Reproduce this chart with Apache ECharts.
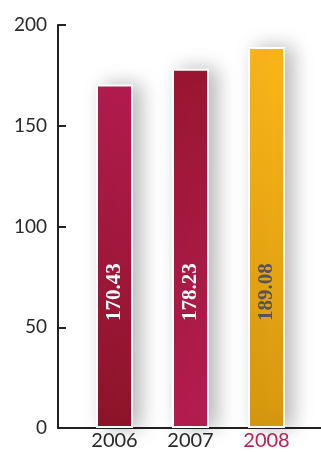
<!DOCTYPE html>
<html><head><meta charset="utf-8">
<script src="https://cdn.jsdelivr.net/npm/echarts@6/dist/echarts.min.js"></script>
<style>html,body{margin:0;padding:0;background:#fff}#c{width:321px;height:452px}</style>
</head><body><div id="c"></div>
<script>
const categories = ['2006', '2007', '2008'];
const values = [170.43, 178.23, 189.08];
const yTicks = [0, 50, 100, 150, 200];
const barTop = ['#B51C50', '#9C1733', '#FDB819'];
const barBottom = ['#8F1529', '#B71D52', '#D99A10'];
const labelColors = ['#ffffff', '#ffffff', '#555555'];
const catColors = ['#2a2a2a', '#2a2a2a', '#C0245A'];

const chart = echarts.init(document.getElementById('c'));
chart.setOption({
  animation: false,
  grid: [
    {left: 76.5, right: 16.5, top: 25, bottom: 24},
    {left: 58, right: 0, top: 25, bottom: 24}
  ],
  xAxis: [
    {type: 'category', gridIndex: 0, data: categories,
     axisLine: {show: false}, axisTick: {show: false},
     axisLabel: {fontFamily: 'Lato', fontSize: 20, margin: 3,
       color: (v, i) => catColors[i]}},
    {type: 'value', gridIndex: 1, min: 0, max: 1,
     axisLine: {show: true, lineStyle: {color: '#222', width: 2}},
     axisTick: {show: false}, axisLabel: {show: false}, splitLine: {show: false}}
  ],
  yAxis: [
    {type: 'value', gridIndex: 0, min: yTicks[0], max: yTicks[yTicks.length-1], interval: 50, show: false},
    {type: 'value', gridIndex: 1, min: yTicks[0], max: yTicks[yTicks.length-1], interval: 50,
     axisLine: {show: true, lineStyle: {color: '#222', width: 2}},
     axisTick: {show: true, inside: true, length: 8, lineStyle: {color: '#222', width: 2}},
     axisLabel: {fontFamily: 'Lato', fontSize: 19, color: '#2a2a2a', margin: 11},
     splitLine: {show: false}}
  ],
  series: [{
    type: 'bar', xAxisIndex: 0, yAxisIndex: 0,
    barWidth: 37,
    data: values.map((v, i) => ({
      value: v,
      itemStyle: {
        color: new echarts.graphic.LinearGradient(0, 0, 0, 1, [
          {offset: 0, color: barTop[i]}, {offset: 1, color: barBottom[i]}]),
        borderColor: '#fff', borderWidth: 2,
        shadowColor: 'rgba(0,0,0,0.28)', shadowBlur: 20, shadowOffsetX: 8
      },
      label: {color: labelColors[i]}
    })),
    label: {
      show: true, position: 'insideBottom', rotate: 90, distance: 107,
      align: 'left', verticalAlign: 'middle',
      fontFamily: 'Liberation Serif', fontWeight: 'bold', fontSize: 21,
      formatter: p => p.value.toFixed(2)
    }
  }]
});
</script></body></html>
